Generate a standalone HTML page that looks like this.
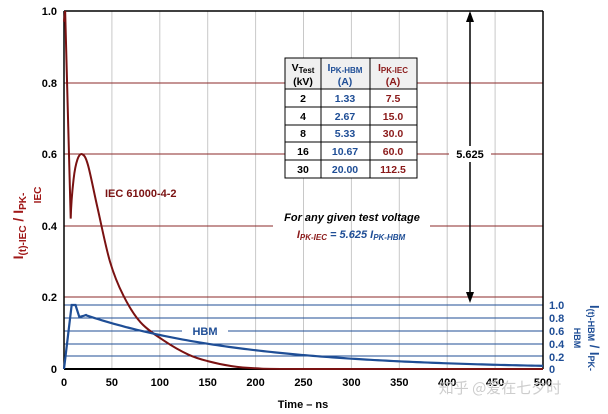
<!DOCTYPE html>
<html><head><meta charset="utf-8"><style>
html,body{margin:0;padding:0;background:#fff;}
svg{display:block;font-family:"Liberation Sans",Arial,sans-serif;font-weight:bold;}
</style></head><body>
<svg id="s" width="608" height="414" viewBox="0 0 608 414" xmlns="http://www.w3.org/2000/svg">
<rect width="608" height="414" fill="#fff"/>
<g id="vgrid" stroke="#c8c8c8" stroke-width="1"></g>
<g stroke="#8b2a2a" stroke-width="1">
<line x1="64" y1="83" x2="543" y2="83"/>
<line x1="64" y1="154" x2="543" y2="154"/>
<line x1="64" y1="226" x2="273" y2="226"/>
<line x1="430" y1="226" x2="543" y2="226"/>
<line x1="64" y1="297" x2="543" y2="297"/>
</g>
<g stroke="#1f4e96" stroke-width="1">
<line x1="64" y1="305" x2="543" y2="305"/>
<line x1="64" y1="318" x2="543" y2="318"/>
<line x1="64" y1="344" x2="543" y2="344"/>
<line x1="64" y1="356" x2="543" y2="356"/>
<line x1="64" y1="331" x2="182" y2="331"/>
<line x1="228" y1="331" x2="543" y2="331"/>
</g>
<line x1="64" y1="11" x2="543" y2="11" stroke="#000" stroke-width="1.5"/>
<line x1="543" y1="11" x2="543" y2="369" stroke="#000" stroke-width="1.5"/>
<line x1="64" y1="11" x2="64" y2="369" stroke="#000" stroke-width="1.5"/>
<line x1="64" y1="369" x2="543" y2="369" stroke="#000" stroke-width="2"/>
<line x1="470" y1="13" x2="470" y2="300" stroke="#000" stroke-width="1.5"/>
<polygon points="470,11 466,22 474,22" fill="#000"/>
<polygon points="470,303 466,292 474,292" fill="#000"/>
<rect x="449" y="146" width="42" height="16" fill="#fff"/>
<text x="470" y="158" font-size="11" text-anchor="middle" fill="#000">5.625</text>
<path id="iec" fill="none" stroke="#7a1212" stroke-width="2"/>
<path id="hbm" fill="none" stroke="#1f4e96" stroke-width="2.2"/>
<g stroke="#000" stroke-width="1">
<rect x="285" y="58" width="132" height="120" fill="#fff"/>
<rect x="285" y="58" width="132" height="31" fill="#f0f0f0"/>
<line x1="321" y1="58" x2="321" y2="178"/><line x1="370" y1="58" x2="370" y2="178"/>
<line x1="285" y1="107" x2="417" y2="107"/><line x1="285" y1="125" x2="417" y2="125"/>
<line x1="285" y1="142" x2="417" y2="142"/><line x1="285" y1="160" x2="417" y2="160"/>
</g>
<g font-size="10.5" text-anchor="middle">
<text x="303" y="71" fill="#000">V<tspan font-size="8" dy="2">Test</tspan></text>
<text x="303" y="85" fill="#000">(kV)</text>
<text x="345" y="71" fill="#1f4e96">I<tspan font-size="8" dy="2">PK-HBM</tspan></text>
<text x="345" y="85" fill="#1f4e96">(A)</text>
<text x="393" y="71" fill="#8b1a1a">I<tspan font-size="8" dy="2">PK-IEC</tspan></text>
<text x="393" y="85" fill="#8b1a1a">(A)</text>
<g fill="#000"><text x="303" y="102">2</text><text x="303" y="120">4</text><text x="303" y="137">8</text><text x="303" y="155">16</text><text x="303" y="173">30</text></g>
<g fill="#1f4e96"><text x="345" y="102">1.33</text><text x="345" y="120">2.67</text><text x="345" y="137">5.33</text><text x="345" y="155">10.67</text><text x="345" y="173">20.00</text></g>
<g fill="#8b1a1a"><text x="393" y="102">7.5</text><text x="393" y="120">15.0</text><text x="393" y="137">30.0</text><text x="393" y="155">60.0</text><text x="393" y="173">112.5</text></g>
</g>
<text x="352" y="221" font-size="11" font-style="italic" text-anchor="middle" fill="#000">For any given test voltage</text>
<text x="351" y="238" font-size="11" font-style="italic" text-anchor="middle"><tspan fill="#8b1a1a">I<tspan font-size="8" dy="2">PK-IEC</tspan></tspan><tspan fill="#1f4e96" dy="-2"> = 5.625 I<tspan font-size="8" dy="2">PK-HBM</tspan></tspan></text>
<text x="105" y="197" font-size="11" fill="#7a1212">IEC 61000-4-2</text>
<text x="205" y="335" font-size="11" text-anchor="middle" fill="#1f4e96">HBM</text>
<g font-size="11" text-anchor="end" fill="#000">
<text x="57" y="15">1.0</text><text x="57" y="87">0.8</text><text x="57" y="158">0.6</text>
<text x="57" y="230">0.4</text><text x="57" y="301">0.2</text><text x="57" y="373">0</text>
</g>
<g id="xl" font-size="11" text-anchor="middle" fill="#000"></g>
<text x="303" y="408" font-size="11" text-anchor="middle" fill="#000">Time – ns</text>
<g font-size="11" fill="#1f4e96">
<text x="549" y="309">1.0</text><text x="549" y="322">0.8</text><text x="549" y="335">0.6</text>
<text x="549" y="348">0.4</text><text x="549" y="361">0.2</text><text x="549" y="373">0</text>
</g>
<text transform="translate(574,338) rotate(90)" font-size="9" text-anchor="middle" fill="#1f4e96">HBM</text>
<text transform="translate(590,338) rotate(90)" font-size="13" text-anchor="middle" fill="#1f4e96">I<tspan font-size="9" dy="2">(t)-HBM</tspan><tspan dy="-2"> / I</tspan><tspan font-size="9" dy="2">PK-</tspan></text>
<text transform="translate(23,226) rotate(-90)" font-size="14" text-anchor="middle" fill="#a01818">I<tspan font-size="10" dy="3">(t)-IEC</tspan><tspan dy="-3"> / I</tspan><tspan font-size="10" dy="3">PK-</tspan></text>
<text transform="translate(41,195) rotate(-90)" font-size="10" text-anchor="middle" fill="#a01818">IEC</text>
<text x="500" y="393" font-size="15" font-weight="normal" text-anchor="middle" fill="#c8c8c8" fill-opacity="0.9" font-family="'Noto Sans CJK SC',sans-serif">知乎 @爱在七夕时</text>
</svg>
<script>
var X=function(t){return 64+t*0.958;}, Y=function(v){return 369-v*358;};
var g=document.getElementById('vgrid'),xl=document.getElementById('xl'),h='',l='';
for(var t=50;t<500;t+=50){h+='<line x1="'+X(t)+'" y1="11" x2="'+X(t)+'" y2="369"/>';}
for(var t=0;t<=500;t+=50){l+='<text x="'+X(t)+'" y="386">'+t+'</text>';}
g.innerHTML=h;xl.innerHTML=l;
var P=[[7,0.42],[10,0.53],[14,0.585],[19,0.6],[25,0.57],[35,0.45],[48,0.3],[62,0.205],[80,0.13],[105,0.078],[130,0.04],[150,0.022],[175,0.008],[200,0.002],[250,0],[500,0]];
function cr(p){var d='';for(var i=0;i<p.length-1;i++){var a=p[Math.max(i-1,0)],b=p[i],c=p[i+1],e=p[Math.min(i+2,p.length-1)];
var bx=X(b[0]),by=Y(b[1]),cx=X(c[0]),cy=Y(c[1]);
var c1x=bx+(cx-X(a[0]))/6,c1y=by+(cy-Y(a[1]))/6,c2x=cx-(X(e[0])-bx)/6,c2y=cy-(Y(e[1])-by)/6;
if(i==0){c1x=bx+0.3;c1y=by-12;} d+=' C'+c1x+' '+c1y+' '+c2x+' '+c2y+' '+cx+' '+cy;}return d;}
var d='M'+X(0)+' '+Y(0.97)+' L'+X(1.2)+' '+Y(1.0)+' L'+X(7)+' '+Y(0.42)+cr(P);
document.getElementById('iec').setAttribute('d',d);
var hb='M'+X(0)+' 369 L'+X(8)+' '+(369-64)+' L'+X(12)+' '+(369-64)+' L'+X(16)+' '+(369-52)+' L'+X(20)+' '+(369-53)+' L'+X(23)+' '+(369-54);
for(var t=24;t<=500;t+=4){hb+=' L'+X(t)+' '+(369-64*0.84*Math.exp(-(t-23)/168));}
document.getElementById('hbm').setAttribute('d',hb);
</script>
</body></html>
